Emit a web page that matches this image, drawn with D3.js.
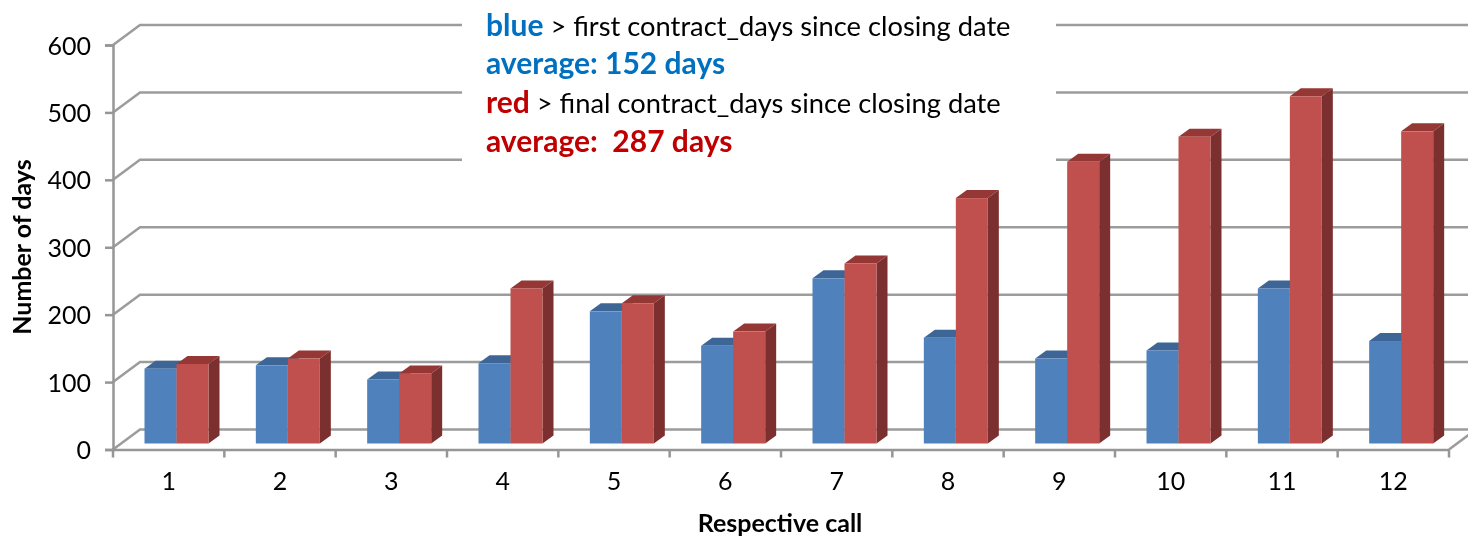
<!DOCTYPE html>
<html>
<head>
<meta charset="utf-8">
<script src="https://cdn.jsdelivr.net/npm/d3@7"></script>
<style>
  html, body { margin: 0; padding: 0; background: #fff; }
  svg { display: block; filter: blur(0.5px); }
  text { font-family: Lato, "Open Sans", sans-serif; }
</style>
</head>
<body>
<script>
// values
var categories = ["1", "2", "3", "4", "5", "6", "7", "8", "9", "10", "11", "12"];
var firstContract = [111, 116, 95, 119, 196, 145, 245, 157, 126, 138, 230, 152];
var finalContract = [118, 126, 104, 230, 208, 166, 267, 364, 418, 455, 515, 463];
var yTicks = [0, 100, 200, 300, 400, 500, 600];
var noteLines = [
  [["blue", "blue"], [" > first contract_days since closing date", "plain"]],
  [["average: 152 days", "blue"]],
  [["red", "red"], [" > final contract_days since closing date", "plain"]],
  [["average:  287 days", "red"]]
];

var width = 1468, height = 541;
var grey = "#9c9c9c";
var noteStyle = {
  blue: { fill: "#0070c0", weight: 700, size: 30 },
  red: { fill: "#c00000", weight: 700, size: 30 },
  plain: { fill: "#000", weight: 400, size: 27.3 }
};

// the 3d box: front plane of the axes, how far the back wall is pushed,
// where the bars stand inside the floor and how deep each bar is
var wall = { dx: 27, dy: -20 };
var base = { dx: 8, dy: -6 };
var bar = { dx: 11, dy: -8 };

var svg = d3.select("body").append("svg")
    .attr("width", width)
    .attr("height", height);

var x = d3.scaleBand().domain(categories).range([113, 1449]);
var y = d3.scaleLinear().domain([0, 600]).range([449.5, 45]);

// back wall gridlines + the slanted bit on the side wall
yTicks.forEach(function (t) {
  svg.append("polyline")
      .attr("fill", "none")
      .attr("stroke", grey)
      .attr("stroke-width", 2.5)
      .attr("points", [
        [x.range()[0], y(t)],
        [x.range()[0] + wall.dx, y(t) + wall.dy],
        [width + 5, y(t) + wall.dy]
      ].join(" "));
});

// floor edge on the right
svg.append("line")
    .attr("x1", x.range()[1]).attr("y1", y(0))
    .attr("x2", x.range()[1] + wall.dx).attr("y2", y(0) + wall.dy)
    .attr("stroke", grey)
    .attr("stroke-width", 2.5);

// white box behind the note
svg.append("rect")
    .attr("x", 462).attr("y", 0)
    .attr("width", 594).attr("height", 168)
    .attr("fill", "#fff");

// axes
var yAxis = svg.append("g")
    .attr("transform", "translate(" + x.range()[0] + ",0)")
    .call(d3.axisLeft(y).tickValues(yTicks).tickSize(8).tickPadding(14));

var xAxis = svg.append("g")
    .attr("transform", "translate(0," + y(0) + ")")
    .call(d3.axisBottom(x).tickSize(0).tickPadding(23));

// ticks sit between the categories
xAxis.selectAll(".edge")
    .data(categories.concat("end"))
    .enter().append("line")
    .attr("class", "edge")
    .attr("x1", function (d, i) { return x.range()[0] + i * x.step(); })
    .attr("x2", function (d, i) { return x.range()[0] + i * x.step(); })
    .attr("y1", 0)
    .attr("y2", 8);

[yAxis, xAxis].forEach(function (a) {
  a.selectAll(".domain, line")
      .attr("stroke", "#969696")
      .attr("stroke-width", 2.5);
  a.selectAll("text")
      .attr("font-size", 25)
      .attr("fill", "#000")
      .style("font-family", "Lato, 'Open Sans', sans-serif");
});
yAxis.selectAll("text").attr("dy", "0.36em");

// bars
var sub = d3.scaleBand().domain([0, 1]).range([base.dx + 23.5, base.dx + 87.5]);
var series = [
  { values: firstContract, front: "#4f81bd", top: "#3d6696", side: "#3d6696" },
  { values: finalContract, front: "#c0504d", top: "#953735", side: "#7b302f" }
];

categories.forEach(function (c, i) {
  series.forEach(function (s, k) {
    var left = x(c) + sub(k);
    var right = left + sub.bandwidth();
    var top = y(s.values[i]) + base.dy;
    var bottom = y(0) + base.dy;
    var g = svg.append("g");
    g.append("polygon")
        .attr("fill", s.top)
        .attr("points", [[left, top], [left + bar.dx, top + bar.dy],
          [right + bar.dx, top + bar.dy], [right, top]].join(" "));
    g.append("polygon")
        .attr("fill", s.side)
        .attr("points", [[right, top], [right + bar.dx, top + bar.dy],
          [right + bar.dx, bottom + bar.dy], [right, bottom]].join(" "));
    g.append("rect")
        .attr("x", left)
        .attr("y", top)
        .attr("width", sub.bandwidth())
        .attr("height", bottom - top)
        .attr("fill", s.front);
  });
});

// axis titles
svg.append("text")
    .attr("transform", "translate(31,247) rotate(-90)")
    .attr("text-anchor", "middle")
    .attr("font-size", 25)
    .attr("font-weight", 700)
    .text("Number of days");

svg.append("text")
    .attr("x", 780)
    .attr("y", 532)
    .attr("text-anchor", "middle")
    .attr("font-size", 25)
    .attr("font-weight", 700)
    .text("Respective call");

// note at the top
var note = svg.append("g");
noteLines.forEach(function (line, i) {
  var t = note.append("text")
      .attr("x", 486)
      .attr("y", 35.5 + i * 38.7)
      .style("white-space", "pre");
  line.forEach(function (part) {
    var st = noteStyle[part[1]];
    t.append("tspan")
        .attr("fill", st.fill)
        .attr("font-weight", st.weight)
        .attr("font-size", st.size)
        .text(part[0]);
  });
});
</script>
</body>
</html>
